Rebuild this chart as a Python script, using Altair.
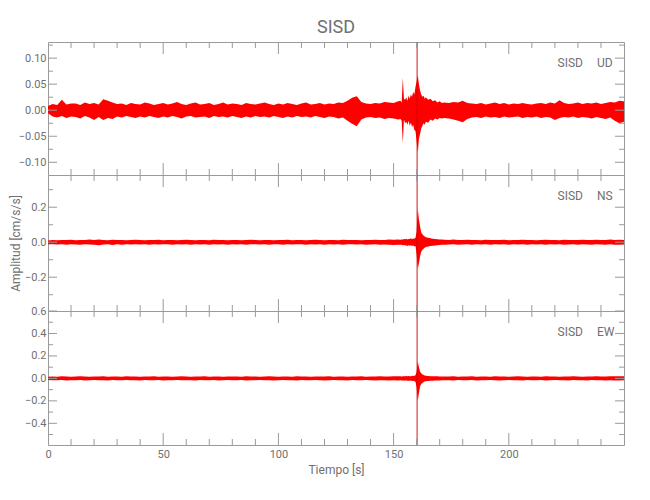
import altair as alt
import pandas as pd
import numpy as np

FONT = "Roboto"
GREY = "#9a9a9a"
TXT = "#707070"

station = "SISD"
components = ["UD", "NS", "EW"]
y_title = "Amplitud [cm/s/s]"
x_title = "Tiempo [s]"

# time grid (s): coarse before / after the event, fine around it
t_pre = list(range(0, 153, 2))
t_evt = [153, 153.5, 154, 154.5, 155, 155.5, 156, 156.5, 157, 157.5, 158, 158.5,
         159, 159.5, 160, 160.5, 161, 161.5, 162, 162.5, 163, 163.5, 164, 165,
         166, 167, 168, 169, 170, 171]
t_post = list(range(172, 251, 2))
spike_t = [160.2]

# envelopes (x 1e-3 cm/s/s)
ud_hi_a = [8, 12, 10, 20, 11, 13, 13, 10, 15, 12,
           14, 11, 21, 18, 15, 12, 13, 10, 14, 12,
           11, 15, 13, 10, 12, 14, 11, 13, 16, 12,
           10, 13, 15, 11, 12, 14, 10, 12, 15, 11,
           13, 12, 10, 14, 12, 11, 13, 15, 12, 10,
           13, 11, 14, 12, 10, 13, 15, 11, 12, 14,
           11, 13, 12, 15, 14, 18, 24, 27, 16, 13,
           12, 14, 13, 16, 15, 14, 17]
ud_lo_a = [-6, -12, -14, -11, -15, -12, -13, -16, -11, -14,
           -19, -13, -19, -15, -17, -12, -14, -11, -13, -15,
           -12, -14, -11, -13, -15, -12, -14, -11, -13, -16,
           -12, -11, -14, -13, -12, -15, -11, -13, -12, -14,
           -11, -13, -15, -12, -14, -11, -13, -12, -14, -11,
           -13, -15, -12, -14, -11, -13, -12, -14, -11, -13,
           -15, -12, -13, -16, -14, -20, -26, -31, -18, -14,
           -13, -15, -14, -17, -15, -16, -18]
ud_hi_e = [18, 15, 62, 22, 20, 25, 18, 28, 22, 30, 26, 35, 30, 45, 55, 67,
           50, 38, 30, 26, 28, 22, 25, 20, 22, 17, 19, 15, 17, 14]
ud_lo_e = [-17, -20, -63, -18, -25, -22, -28, -20, -30, -24, -32, -28, -38, -40, -60, -81,
           -55, -45, -35, -30, -25, -28, -22, -24, -18, -20, -16, -18, -15, -16]
ud_hi_b = [15, 14, 16, 15, 18, 14, 13, 12, 14, 11,
           13, 15, 12, 14, 11, 13, 12, 14, 12, 11,
           13, 14, 12, 15, 13, 19, 14, 12, 13, 15,
           12, 14, 13, 15, 12, 14, 16, 15, 18, 17]
ud_lo_b = [-15, -16, -18, -20, -23, -17, -14, -13, -15, -12,
           -14, -13, -15, -12, -14, -13, -12, -15, -13, -14,
           -12, -15, -13, -14, -19, -15, -13, -14, -12, -15,
           -13, -14, -16, -13, -15, -17, -14, -20, -25, -22]

ns_hi_a = [10, 12, 11, 13, 12, 14, 11, 12, 13, 15,
           13, 16, 12, 11, 14, 12, 13, 11, 12, 14,
           12, 11, 13, 12, 14, 11, 12, 13, 11, 12,
           14, 12, 11, 13, 12, 11, 14, 12, 13, 11,
           12, 13, 11, 12, 14, 12, 11, 13, 12, 11,
           13, 12, 14, 11, 12, 13, 11, 12, 14, 12,
           11, 13, 12, 11, 14, 12, 13, 12, 11, 13,
           12, 14, 13, 12, 15, 14, 16]
ns_lo_a = [-11, -12, -13, -11, -14, -12, -13, -15, -12, -13,
           -14, -17, -13, -12, -16, -12, -14, -12, -13, -11,
           -13, -12, -14, -11, -13, -12, -11, -14, -12, -13,
           -12, -14, -11, -13, -12, -14, -11, -13, -12, -14,
           -11, -13, -12, -14, -11, -12, -13, -12, -14, -11,
           -12, -14, -11, -13, -12, -11, -14, -12, -13, -12,
           -14, -11, -13, -12, -14, -12, -11, -13, -12, -14,
           -13, -12, -15, -13, -14, -16, -15]
ns_hi_e = [14, 16, 15, 18, 17, 20, 16, 19, 18, 22, 17, 21, 20, 25, 60, 190,
           130, 90, 55, 45, 38, 32, 28, 25, 22, 20, 18, 17, 16, 15]
ns_lo_e = [-14, -15, -17, -16, -19, -17, -21, -18, -20, -17, -22, -19, -24, -22, -70, -150,
           -120, -80, -55, -45, -38, -32, -27, -25, -22, -20, -19, -17, -16, -15]
ns_hi_b = [14, 13, 15, 12, 13, 14, 12, 13, 11, 14,
           12, 13, 12, 14, 11, 13, 12, 14, 13, 12,
           11, 13, 14, 12, 13, 11, 14, 12, 13, 12,
           14, 13, 12, 14, 13, 12, 15, 13, 14, 13]
ns_lo_b = [-14, -13, -12, -15, -13, -12, -14, -12, -13, -11,
           -14, -12, -13, -11, -14, -12, -13, -12, -14, -11,
           -13, -12, -14, -11, -13, -12, -14, -13, -12, -14,
           -12, -13, -14, -12, -13, -14, -12, -15, -14, -13]

ew_hi_a = [14, 16, 15, 18, 16, 15, 17, 19, 16, 15,
           17, 16, 18, 15, 17, 16, 15, 18, 16, 17,
           15, 17, 16, 18, 15, 16, 17, 15, 16, 18,
           16, 15, 17, 16, 18, 15, 16, 17, 15, 16,
           17, 16, 15, 18, 16, 17, 15, 16, 18, 16,
           15, 17, 16, 15, 18, 16, 17, 15, 16, 17,
           16, 18, 15, 17, 16, 15, 17, 16, 18, 15,
           17, 16, 18, 17, 16, 19, 18]
ew_lo_a = [-15, -17, -16, -15, -19, -16, -17, -15, -18, -16,
           -15, -17, -16, -18, -15, -17, -16, -15, -17, -16,
           -18, -15, -17, -16, -15, -18, -16, -17, -15, -16,
           -17, -16, -18, -15, -16, -17, -15, -18, -16, -15,
           -17, -16, -15, -18, -16, -17, -15, -16, -17, -18,
           -16, -15, -17, -16, -18, -15, -16, -17, -15, -16,
           -18, -16, -15, -17, -16, -18, -15, -16, -17, -15,
           -16, -18, -17, -16, -19, -17, -18]
ew_hi_e = [18, 17, 20, 19, 18, 21, 19, 22, 20, 19, 23, 21, 24, 28, 60, 150,
           100, 60, 45, 38, 30, 26, 24, 22, 20, 19, 18, 18, 17, 17]
ew_lo_e = [-17, -19, -18, -21, -19, -18, -22, -20, -21, -19, -23, -22, -25, -30, -80, -200,
           -130, -70, -50, -40, -33, -28, -25, -23, -21, -20, -19, -18, -18, -17]
ew_hi_b = [17, 16, 18, 15, 17, 16, 18, 15, 16, 17,
           15, 18, 16, 17, 15, 16, 18, 17, 15, 16,
           17, 15, 18, 16, 17, 15, 16, 17, 18, 16,
           15, 17, 16, 18, 16, 17, 19, 18, 20, 18]
ew_lo_b = [-17, -16, -18, -15, -17, -16, -15, -18, -16, -17,
           -15, -16, -18, -17, -15, -16, -17, -18, -15, -16,
           -17, -15, -18, -16, -15, -17, -16, -18, -15, -17,
           -16, -18, -15, -17, -16, -18, -17, -19, -18, -17]

# axis ticks
x_labels = [0, 50, 100, 150, 200]
x_major = [50, 100, 150, 200]
x_minor = [10, 20, 30, 40, 60, 70, 80, 90, 110, 120, 130, 140, 160, 170, 180, 190,
           210, 220, 230, 240]
ud_major = [-0.10, -0.05, 0.0, 0.05, 0.10]
ud_minor = [-0.075, -0.025, 0.025, 0.075, 0.125]
ns_major = [-0.2, 0.0, 0.2]
ns_minor = [-0.3, -0.1, 0.1, 0.3]
ew_major = [-0.4, -0.2, 0.0, 0.2, 0.4, 0.6]
ew_minor = [-0.5, -0.3, -0.1, 0.1, 0.3, 0.5]

ud_dom = [-0.1244, 0.131]
ns_dom = [-0.393, 0.384]
ew_dom = [-0.593, 0.6]

W = 576
T = t_pre + t_evt + t_post
X_DOM = [0, 250]


def panel(comp, hi, lo, dom, major, minor, fmt, H, ytitle, show_x):
    df = pd.DataFrame({"t": T, "hi": np.array(hi) / 1000.0, "lo": np.array(lo) / 1000.0})
    if show_x:
        xaxis = alt.Axis(values=x_labels, ticks=False, domain=False, grid=False,
                         labelFont=FONT, labelFontSize=11, labelColor=TXT,
                         labelPadding=3, labelFlush=False, title=x_title,
                         titleFont=FONT, titleFontSize=12, titleFontWeight="normal",
                         titleColor=TXT, titlePadding=5)
    else:
        xaxis = None
    yaxis_kw = dict(values=major, format=fmt, ticks=False, domain=False, grid=False,
                    labelFont=FONT, labelFontSize=11, labelColor=TXT, labelPadding=2)
    if ytitle:
        yaxis = alt.Axis(title=ytitle, titleFont=FONT, titleFontSize=12,
                         titleFontWeight="normal", titleColor=TXT, titleX=-26,
                         titleBaseline="bottom", **yaxis_kw)
    else:
        yaxis = alt.Axis(title=None, **yaxis_kw)
    xs = alt.Scale(domain=X_DOM, nice=False, zero=False)
    ys = alt.Scale(domain=dom, nice=False, zero=False)

    def X(field="t"):
        return alt.X(f"{field}:Q", scale=xs, axis=xaxis)

    def Y(field="lo"):
        return alt.Y(f"{field}:Q", scale=ys, axis=yaxis)

    area = alt.Chart(df).mark_area(color="#ff0000", clip=True).encode(
        x=X(), y=Y(), y2="hi:Q")
    spike = alt.Chart(pd.DataFrame({"t": spike_t})).mark_rule(
        color="#d00000", strokeWidth=0.9).encode(x=X(), y=alt.value(0), y2=alt.value(H))

    layers = [area, spike]
    for vals, ln in ((x_major, 12), (x_minor, 6)):
        d = pd.DataFrame({"t": vals})
        layers.append(alt.Chart(d).mark_rule(color=GREY).encode(
            x=X(), y=alt.value(0), y2=alt.value(ln)))
        layers.append(alt.Chart(d).mark_rule(color=GREY).encode(
            x=X(), y=alt.value(H), y2=alt.value(H - ln)))
    for vals, ln in ((major, 9), (minor, 5)):
        d = pd.DataFrame({"lo": vals})
        layers.append(alt.Chart(d).mark_rule(color=GREY).encode(
            y=Y(), x=alt.value(0), x2=alt.value(ln)))
        layers.append(alt.Chart(d).mark_rule(color=GREY).encode(
            y=Y(), x=alt.value(W), x2=alt.value(W - ln)))

    lbl = pd.DataFrame({"s": [station], "c": [comp]})
    layers.append(alt.Chart(lbl).mark_text(align="right", baseline="middle", font=FONT,
                                           fontSize=12, color=TXT).encode(
        x=alt.value(W - 41), y=alt.value(21), text="s:N"))
    layers.append(alt.Chart(lbl).mark_text(align="left", baseline="middle", font=FONT,
                                           fontSize=12, color=TXT).encode(
        x=alt.value(W - 27), y=alt.value(21), text="c:N"))
    return alt.layer(*layers).properties(width=W, height=H)


ud = panel(components[0], ud_hi_a + ud_hi_e + ud_hi_b, ud_lo_a + ud_lo_e + ud_lo_b,
           ud_dom, ud_major, ud_minor, ".2f", 133, None, False)
ns = panel(components[1], ns_hi_a + ns_hi_e + ns_hi_b, ns_lo_a + ns_lo_e + ns_lo_b,
           ns_dom, ns_major, ns_minor, ".1f", 136, y_title, False)
ew = panel(components[2], ew_hi_a + ew_hi_e + ew_hi_b, ew_lo_a + ew_lo_e + ew_lo_b,
           ew_dom, ew_major, ew_minor, ".1f", 134, None, True)

chart = alt.vconcat(ud, ns, ew, spacing=0, bounds="flush").resolve_scale(
    y="independent").properties(
    title=alt.TitleParams(text=station, font=FONT, fontSize=18, fontWeight="normal",
                          color=TXT, anchor="middle", frame="group", offset=4),
    padding={"left": 0, "top": 11, "right": 5, "bottom": 5},
).configure_view(stroke=GREY, strokeWidth=1)

chart.save("out.html", embed_options={"renderer": "svg", "actions": False})
